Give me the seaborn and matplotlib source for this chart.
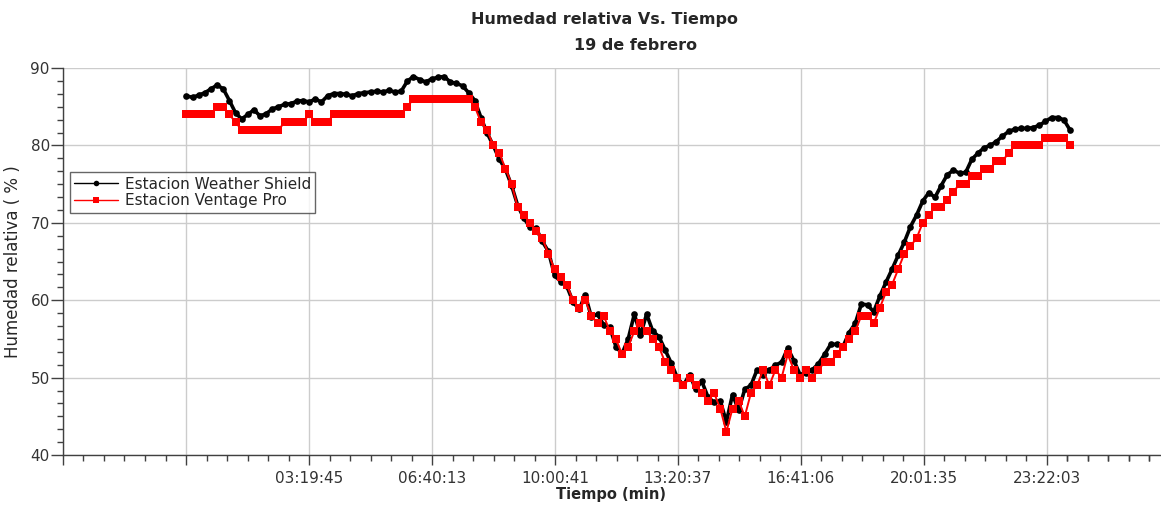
import numpy as np
import pandas as pd
import seaborn as sns
import matplotlib.pyplot as plt
from matplotlib.ticker import FixedLocator, MultipleLocator

# Humidity readings every 10 minutes starting at 00:00 (145 samples)
weather_shield = [
    86.4, 86.2, 86.5, 86.8, 87.3, 87.8, 87.3, 85.8, 84.2, 83.4,
    84.0, 84.6, 83.8, 84.1, 84.7, 85.0, 85.3, 85.4, 85.7, 85.8,
    85.6, 86.0, 85.6, 86.4, 86.7, 86.7, 86.6, 86.4, 86.7, 86.8,
    86.9, 87.0, 86.9, 87.1, 86.9, 87.0, 88.3, 88.9, 88.5, 88.2,
    88.6, 88.8, 88.9, 88.2, 88.0, 87.7, 86.8, 85.8, 83.6, 81.6,
    80.0, 78.2, 76.9, 74.8, 72.2, 70.6, 69.4, 69.3, 67.6, 66.3,
    63.2, 62.4, 61.8, 59.8, 58.8, 60.7, 57.8, 58.2, 56.8, 56.5,
    54.0, 53.1, 55.0, 58.2, 55.5, 58.2, 56.0, 55.3, 53.6, 51.9,
    50.0, 49.0, 50.4, 48.5, 49.5, 47.5, 46.8, 47.0, 44.3, 47.8,
    45.8, 48.5, 49.0, 51.0, 50.4, 51.0, 51.6, 52.0, 53.8, 52.2,
    50.4, 50.6, 51.0, 51.8, 53.0, 54.3, 54.3, 54.0, 55.8, 57.0,
    59.5, 59.4, 58.5, 60.5, 62.3, 64.0, 65.8, 67.5, 69.5, 71.0,
    72.8, 73.9, 73.3, 74.8, 76.2, 76.8, 76.4, 76.5, 78.2, 79.0,
    79.7, 80.0, 80.5, 81.2, 81.8, 82.1, 82.2, 82.2, 82.3, 82.6,
    83.1, 83.6, 83.6, 83.3, 82.0,
]
vantage_pro = [
    84, 84, 84, 84, 84, 85, 85, 84, 83, 82,
    82, 82, 82, 82, 82, 82, 83, 83, 83, 83,
    84, 83, 83, 83, 84, 84, 84, 84, 84, 84,
    84, 84, 84, 84, 84, 84, 85, 86, 86, 86,
    86, 86, 86, 86, 86, 86, 86, 85, 83, 82,
    80, 79, 77, 75, 72, 71, 70, 69, 68, 66,
    64, 63, 62, 60, 59, 60, 58, 57, 58, 56,
    55, 53, 54, 56, 57, 56, 55, 54, 52, 51,
    50, 49, 50, 49, 48, 47, 48, 46, 43, 46,
    47, 45, 48, 49, 51, 49, 51, 50, 53, 51,
    50, 51, 50, 51, 52, 52, 53, 54, 55, 56,
    58, 58, 57, 59, 61, 62, 64, 66, 67, 68,
    70, 71, 72, 72, 73, 74, 75, 75, 76, 76,
    77, 77, 78, 78, 79, 80, 80, 80, 80, 80,
    81, 81, 81, 81, 80,
]
sample_minutes = 10
tick_labels = ["03:19:45", "06:40:13", "10:00:41", "13:20:37",
               "16:41:06", "20:01:35", "23:22:03"]


def to_hours(label):
    h, m, s = (int(v) for v in label.split(":"))
    return h + m / 60 + s / 3600


hours = np.arange(len(weather_shield)) * sample_minutes / 60
df = pd.DataFrame({"hora": hours, "ws": weather_shield, "vp": vantage_pro})

sns.set_theme(style="white")
plt.rcParams["font.family"] = ["DejaVu Sans"]

fig = plt.figure(figsize=(11.61, 5.08), dpi=100)
ax = fig.add_axes([63 / 1161, 53 / 508, 1097 / 1161, 387 / 508])

sns.lineplot(data=df, x="hora", y="ws", ax=ax, color="black", marker="o",
             markersize=4.8, markeredgewidth=0, linewidth=2.6,
             label="Estacion Weather Shield", zorder=3)
sns.lineplot(data=df, x="hora", y="vp", ax=ax, color="#ff0000", marker="s",
             markersize=5.2, markeredgewidth=0, linewidth=1.4,
             label="Estacion Ventage Pro", zorder=4)

# x axis: major ticks every ~3h20m, first two unlabeled
label_pos = [to_hours(t) for t in tick_labels]
step = label_pos[1] - label_pos[0]
major = [label_pos[0] - 2 * step, label_pos[0] - step] + label_pos
ax.xaxis.set_major_locator(FixedLocator(major))
ax.set_xticklabels(["", ""] + tick_labels)
minor = []
for a in major:
    minor += list(a + step * np.arange(1, 6) / 6)
minor += list(major[-1] + step * np.arange(1, 6) / 6)
ax.xaxis.set_minor_locator(FixedLocator(minor))
ax.set_xlim(major[0], major[0] + 1097 / 123 * step)

ax.set_ylim(40, 90)
ax.yaxis.set_major_locator(MultipleLocator(10))
ax.yaxis.set_minor_locator(MultipleLocator(10 / 6))

ax.grid(True, which="major", color="#cccccc", linewidth=1)
ax.get_ygridlines()[-1].set_visible(False)

for side in ["top", "right"]:
    ax.spines[side].set_visible(False)
for side in ["left", "bottom"]:
    ax.spines[side].set_color("#404040")
    ax.spines[side].set_linewidth(1)

ax.tick_params(axis="x", which="major", direction="out", length=7.5, width=1,
               color="#404040", labelsize=11, labelcolor="#333333", pad=4, bottom=True)
ax.tick_params(axis="x", which="minor", direction="out", length=4.3, width=1,
               color="#404040", bottom=True)
ax.tick_params(axis="y", which="major", direction="out", length=8.5, width=1,
               color="#404040", labelsize=11, labelcolor="#333333", pad=1, left=True)
ax.tick_params(axis="y", which="minor", direction="out", length=4.3, width=1,
               color="#404040", left=True)

ax.set_xlabel("Tiempo (min)", fontsize=10.5, fontweight="bold", labelpad=1)
ax.set_ylabel("Humedad relativa ( % )", fontsize=12, labelpad=6)

fig.text(0.521, 0.962, "Humedad relativa Vs. Tiempo", ha="center", va="center",
         fontsize=11.5, fontweight="bold")
fig.text(0.547, 0.911, "19 de febrero", ha="center", va="center",
         fontsize=11.5, fontweight="bold")

leg = ax.legend(loc="upper left", bbox_to_anchor=(0.006, 0.731), fontsize=11,
                frameon=True, fancybox=False, handlelength=2.9, handletextpad=0.4,
                borderpad=0.3, labelspacing=0.1, borderaxespad=0)
leg.get_frame().set_edgecolor("#404040")
leg.get_frame().set_linewidth(1)
for line in leg.get_lines():
    line.set_linewidth(1)
    line.set_markersize(4)

fig.savefig("out.png", dpi=100, facecolor="white")
